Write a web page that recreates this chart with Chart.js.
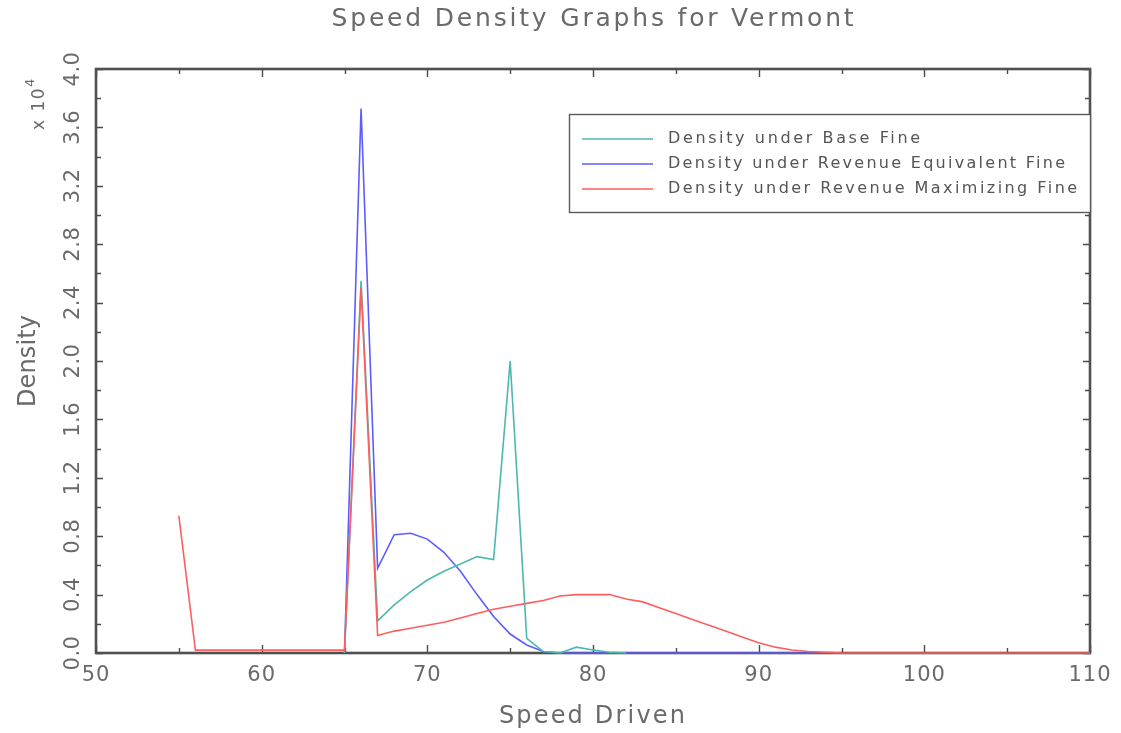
<!DOCTYPE html>
<html>
<head>
<meta charset="utf-8">
<script src="https://cdn.jsdelivr.net/npm/chart.js@4.4.1/dist/chart.umd.min.js"></script>
<style>
  html, body { margin: 0; padding: 0; background: #fff; }
  #wrap { width: 1121px; height: 733px; position: relative; }
</style>
</head>
<body>
<div id="wrap"><canvas id="c" width="1121" height="733"></canvas></div>
<script>
// ---- data (density in units of 10^4) ----
const speeds = [55,56,57,58,59,60,61,62,63,64,65,66,67,68,69,70,71,72,73,74,75,76,77,78,79,80,81,82,83,84,85,86,87,88,89,90,91,92,93,94,95,96,97,98,99,100,101,102,103,104,105,106,107,108,109,110];

const baseFine = [null,null,null,null,null,null,null,null,null,null,
  0,2.55,0.22,0.33,0.42,0.50,0.56,0.61,0.66,0.64,2.00,0.10,0.01,0,0.04,0.02,0.005,0,
  null,null,null,null,null,null,null,null,null,null,null,null,null,null,null,null,null,null,null,null,null,null,null,null,null,null,null,null];

const revenueEquivFine = [null,null,null,null,null,null,null,null,null,null,
  0,3.73,0.58,0.81,0.82,0.78,0.69,0.56,0.40,0.25,0.13,0.055,0.01,
  0,0,0,0,0,0,0,0,0,0,0,0,0,0,0,0,0,0,
  null,null,null,null,null,null,null,null,null,null,null,null,null,null,null];

const revenueMaxFine = [0.94,
  0.02,0.02,0.02,0.02,0.02,0.02,0.02,0.02,0.02,0.02,
  2.50,
  0.12,0.15,0.17,0.19,0.21,0.24,0.27,0.30,0.32,0.34,0.36,0.39,0.40,0.40,0.40,0.37,0.35,0.31,0.27,0.23,0.19,0.15,0.11,0.07,0.04,0.02,0.01,0.005,
  0,0,0,0,0,0,0,0,0,0,0,0,0,0,0,0];

const seriesLabels = ['Density under Base Fine','Density under Revenue Equivalent Fine','Density under Revenue Maximizing Fine'];
const xTickValues = [50,60,70,80,90,100,110];
const xTickLabels = ['50','60','70','80','90','100','110'];
const yTickValues = [0,0.4,0.8,1.2,1.6,2.0,2.4,2.8,3.2,3.6,4.0];
const yTickLabels = ['0.0','0.4','0.8','1.2','1.6','2.0','2.4','2.8','3.2','3.6','4.0'];

const titleText = 'Speed Density Graphs for Vermont';
const xTitle = 'Speed Driven';
const yTitle = 'Density';

const colTeal = '#4cb8b0';
const colBlue = '#5c5cff';
const colRed = '#ff5e5e';
const FONT = '"DejaVu Sans", sans-serif';
const TEXT = '#6a6a6a';

function pts(arr){ return speeds.map((s,i)=>({x:s,y:arr[i]})); }

function fitText(ctx, text, targetW, size){
  ctx.font = size + 'px ' + FONT;
  ctx.letterSpacing = '0px';
  const w = ctx.measureText(text).width;
  const n = Math.max(1, text.length - 1);
  const ls = (targetW - w) / n;
  ctx.letterSpacing = ls.toFixed(2) + 'px';
}

const framePlugin = {
  id: 'frame',
  beforeDatasetsDraw(chart){
    const ctx = chart.ctx, ca = chart.chartArea;
    const xs = chart.scales.x, ys = chart.scales.y;
    ctx.save();
    ctx.strokeStyle = '#4a4a4a';
    ctx.lineWidth = 1.4;
    for (let v = 50; v <= 110; v += 5){
      const px = Math.round(xs.getPixelForValue(v)) + 0.5;
      const len = (v % 10 === 0) ? 8 : 5;
      ctx.beginPath();
      ctx.moveTo(px, ca.bottom); ctx.lineTo(px, ca.bottom - len);
      ctx.moveTo(px, ca.top); ctx.lineTo(px, ca.top + len);
      ctx.stroke();
    }
    for (let i = 0; i <= 20; i++){
      const v = i * 0.2;
      const py = Math.round(ys.getPixelForValue(v)) + 0.5;
      const len = (i % 2 === 0) ? 7 : 5;
      ctx.beginPath();
      ctx.moveTo(ca.left, py); ctx.lineTo(ca.left + len, py);
      ctx.moveTo(ca.right, py); ctx.lineTo(ca.right - len, py);
      ctx.stroke();
    }
    ctx.strokeStyle = '#505050';
    ctx.lineWidth = 2.6;
    ctx.strokeRect(ca.left, ca.top, ca.right - ca.left, ca.bottom - ca.top);
    ctx.restore();
  },
  afterDraw(chart){
    const ctx = chart.ctx, ca = chart.chartArea;
    const xs = chart.scales.x, ys = chart.scales.y;
    ctx.save();
    ctx.fillStyle = TEXT;
    ctx.textBaseline = 'middle';
    ctx.textAlign = 'center';
    // x tick labels
    ctx.font = '21px ' + FONT;
    ctx.letterSpacing = '1px';
    xTickValues.forEach((v,i)=>{
      ctx.fillText(xTickLabels[i], xs.getPixelForValue(v), 676);
    });
    // y tick labels (rotated)
    ctx.font = '21px ' + FONT;
    ctx.letterSpacing = '0.5px';
    yTickValues.forEach((v,i)=>{
      const py = ys.getPixelForValue(v);
      ctx.save();
      ctx.translate(74, py);
      ctx.rotate(-Math.PI/2);
      ctx.fillText(yTickLabels[i], 0, 0);
      ctx.restore();
    });
    // exponent label
    ctx.save();
    ctx.translate(40, 130);
    ctx.rotate(-Math.PI/2);
    ctx.font = '17px ' + FONT;
    ctx.letterSpacing = '1.5px';
    ctx.textAlign = 'left';
    ctx.fillText('x 10', 0, 0);
    ctx.font = '13px ' + FONT;
    ctx.fillText('4', 43, -9);
    ctx.restore();
    // axis titles
    ctx.textAlign = 'center';
    fitText(ctx, xTitle, 186, 24);
    ctx.fillText(xTitle, 593, 717);
    ctx.save();
    ctx.translate(29, 361);
    ctx.rotate(-Math.PI/2);
    fitText(ctx, yTitle, 92, 24);
    ctx.fillText(yTitle, 0, 0);
    ctx.restore();
    // title
    fitText(ctx, titleText, 522, 25);
    ctx.fillText(titleText, 594, 19);
    // legend
    const lx = 569, ly = 114, lw = ca.right - 569, lh = 98;
    ctx.fillStyle = '#fff';
    ctx.fillRect(lx, ly, lw, lh);
    ctx.strokeStyle = '#5a5a5a';
    ctx.lineWidth = 1.4;
    ctx.strokeRect(lx + 0.5, ly + 0.5, lw, lh);
    const cols = [colTeal, colBlue, colRed];
    const widths = [252, 397, 409];
    const rows = [139, 164, 189];
    seriesLabels.forEach((t,i)=>{
      ctx.strokeStyle = cols[i];
      ctx.lineWidth = 1.6;
      ctx.beginPath();
      ctx.moveTo(582, rows[i]); ctx.lineTo(653, rows[i]);
      ctx.stroke();
      ctx.fillStyle = '#555';
      ctx.textAlign = 'left';
      fitText(ctx, t, widths[i], 16);
      ctx.fillText(t, 668, rows[i]);
    });
    ctx.restore();
  }
};

new Chart(document.getElementById('c'), {
  type: 'line',
  data: {
    datasets: [
      { label: seriesLabels[2], data: pts(revenueMaxFine), borderColor: colRed, borderWidth: 1.6, pointRadius: 0, tension: 0, clip: false, order: 0 },
      { label: seriesLabels[0], data: pts(baseFine), borderColor: colTeal, borderWidth: 1.6, pointRadius: 0, tension: 0, clip: false, order: 1 },
      { label: seriesLabels[1], data: pts(revenueEquivFine), borderColor: colBlue, borderWidth: 1.6, pointRadius: 0, tension: 0, clip: false, order: 2 }
    ]
  },
  options: {
    responsive: false,
    animation: false,
    layout: { padding: { left: 96, right: 31, top: 69, bottom: 80 } },
    scales: {
      x: { type: 'linear', min: 50, max: 110, display: false, ticks: { stepSize: 10 } },
      y: { type: 'linear', min: 0, max: 4.0, display: false, ticks: { stepSize: 0.4 } }
    },
    plugins: { legend: { display: false }, tooltip: { enabled: false }, title: { display: false } }
  },
  plugins: [framePlugin]
});
</script>
</body>
</html>
